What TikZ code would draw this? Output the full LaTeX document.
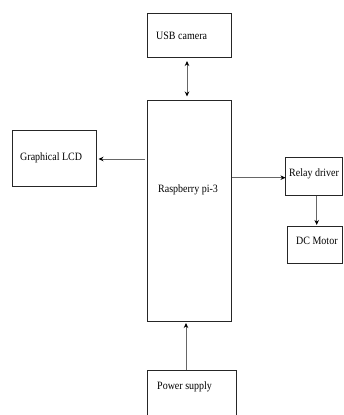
\documentclass[tikz,border=0pt]{standalone}
\usepackage{fontspec}
\setmainfont{Liberation Serif}
\usetikzlibrary{arrows.meta}
\begin{document}
\begin{tikzpicture}[x=1pt,y=-1pt,
  blk/.style={draw=black!85, line width=0.7pt, rectangle, inner sep=0pt},
  lbl/.style={inner sep=0pt, anchor=west, font=\fontsize{10}{12}\selectfont},
  tip/.style={Stealth[length=5pt,width=4.5pt,color=black]},
  conn/.style={draw=black!60, line width=0.8pt, -{Stealth[length=5pt,width=4.5pt,color=black]}},
  conn2/.style={draw=black!60, line width=0.8pt, {Stealth[length=5pt,width=4.5pt,color=black]}-{Stealth[length=5pt,width=4.5pt,color=black]}}]
\useasboundingbox (0,0) rectangle (343,415);
\clip (0,0) rectangle (343,415);
% boxes
\node[blk, minimum width=84pt, minimum height=44pt] (usb) at (189.5,35) {};
\node[lbl] (usbt) at (156,35.5) {\scalebox{1}[1.12]{USB camera}};
\node[blk, minimum width=84pt, minimum height=221pt] (rpi) at (189.5,210.5) {};
\node[lbl] (rpit) at (158,190) {\scalebox{1}[1.12]{Raspberry pi-3}};
\node[blk, minimum width=83.5pt, minimum height=55.7pt] (lcd) at (54.25,158) {};
\node[lbl] (lcdt) at (20,158) {\scalebox{1}[1.12]{Graphical LCD}};
\node[blk, minimum width=56.3pt, minimum height=37.7pt] (relay) at (313.85,176.15) {};
\node[lbl] (relayt) at (289,174) {\scalebox{1}[1.12]{Relay driver}};
\node[blk, minimum width=54.3pt, minimum height=37pt] (dc) at (314.85,244.5) {};
\node[lbl] (dct) at (296,241) {\scalebox{1}[1.12]{DC Motor}};
\node[blk, minimum width=89.4pt, minimum height=70pt] (ps) at (192,405) {};
\node[lbl] (pst) at (157,387) {\scalebox{1}[1.12]{Power supply}};
% connectors
\coordinate (a1) at (187,61);
\coordinate (a2) at (187,96.5);
\draw[conn2] (a1) -- (a2);
\coordinate (b1) at (145,159);
\coordinate (b2) at (98.5,159);
\draw[conn] (b1) -- (b2);
\coordinate (c1) at (232,177.7);
\coordinate (c2) at (285.5,177.7);
\draw[conn] (c1) -- (c2);
\coordinate (d1) at (316.7,195.5);
\coordinate (d2) at (316.7,225);
\draw[conn] (d1) -- (d2);
\coordinate (e1) at (186,370);
\coordinate (e2) at (186,323);
\draw[conn] (e1) -- (e2);
\end{tikzpicture}
\end{document}
